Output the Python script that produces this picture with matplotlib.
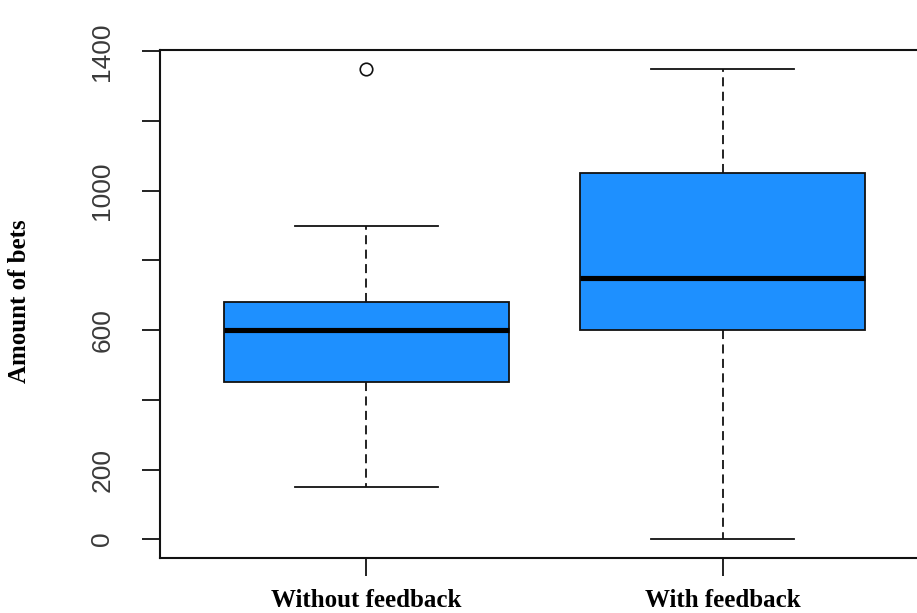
import matplotlib
matplotlib.use("Agg")
import matplotlib.pyplot as plt

# five-number summaries
groups = ["Without feedback", "With feedback"]
whisker_low = [150, 0]
q1 = [450, 600]
medians = [600, 750]
q3 = [680, 1050]
whisker_high = [900, 1350]
outliers = [[1350], []]

y_ticks = [0, 200, 400, 600, 800, 1000, 1200, 1400]
y_tick_labels = ["0", "200", "", "600", "", "1000", "", "1400"]

stats = []
for i, name in enumerate(groups):
    stats.append({
        "label": name,
        "whislo": whisker_low[i],
        "q1": q1[i],
        "med": medians[i],
        "q3": q3[i],
        "whishi": whisker_high[i],
        "fliers": outliers[i],
    })

fig = plt.figure(figsize=(9.17, 6.13), dpi=100)
W, H = 917, 613
# axis box runs slightly past the right edge, as in the reference
ax = fig.add_axes([160 / W, 1 - 558 / H, (929 - 160) / W, (558 - 50) / H])

ax.bxp(
    stats,
    positions=[1, 2],
    widths=0.8,
    patch_artist=True,
    boxprops=dict(facecolor="#1E90FF", edgecolor="#111111", linewidth=1.3),
    medianprops=dict(color="black", linewidth=3.7, solid_capstyle="butt"),
    whiskerprops=dict(color="#111111", linewidth=1.3, linestyle=(0, (5, 3))),
    capprops=dict(color="#111111", linewidth=1.3),
    capwidths=0.4,
    flierprops=dict(marker="o", markerfacecolor="none", markeredgecolor="#111111",
                    markersize=9, markeredgewidth=1.2),
)

ax.set_xlim(0.42, 2.58)
ax.set_ylim(-54, 1404)

for s in ax.spines.values():
    s.set_linewidth(1.5)
    s.set_color("#111111")

ax.set_yticks(y_ticks)
ax.set_yticklabels(y_tick_labels, rotation=90, va="center",
                   fontfamily="Liberation Sans", fontsize=19, color="#3a3a3a")
ax.tick_params(axis="y", length=13, width=1.3, pad=20, color="#111111")

ax.set_xticks([1, 2])
ax.set_xticklabels(groups, fontfamily="Liberation Serif", fontweight="bold", fontsize=18)
ax.tick_params(axis="x", length=13, width=1.3, pad=9, color="#111111")

fig.text(20 / W, 1 - 301 / H, "Amount of bets", rotation=90, ha="center", va="center",
         fontfamily="Liberation Serif", fontweight="bold", fontsize=18)

fig.savefig("out.png", dpi=100)
